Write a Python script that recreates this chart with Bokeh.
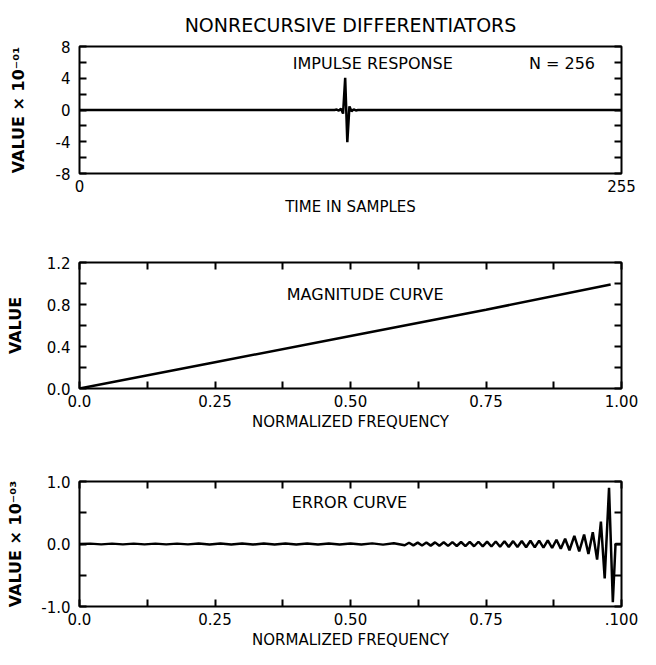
from bokeh.plotting import figure
from bokeh.layouts import column
from bokeh.models import FixedTicker, LinearAxis, Label, Range1d, CustomJSTickFormatter
from bokeh.embed import file_html
from bokeh.resources import INLINE

FONT = "DejaVu Sans"

# ---------------- data ----------------
# impulse response, value x 10^-1, N = 256 (zero away from the centre)
impulse_n = [0, 120, 121, 122, 123, 124, 125, 126, 127, 128, 129, 130, 131, 255]
impulse_v = [0.0, 0.0, 0.05, -0.08, 0.15, -0.45, 4.05, -4.05, 0.45, -0.15, 0.08, -0.05, 0.0, 0.0]

# magnitude curve
mag_f = [0.0, 0.25, 0.50, 0.75, 0.98]
mag_v = [0.0, 0.25, 0.50, 0.75, 0.99]

# error curve, value x 10^-3
err_f = [0.00, 0.02, 0.04, 0.06, 0.08, 0.10, 0.12, 0.14, 0.16, 0.18,
         0.20, 0.22, 0.24, 0.26, 0.28, 0.30, 0.32, 0.34, 0.36, 0.38,
         0.40, 0.42, 0.44, 0.46, 0.48, 0.50, 0.52, 0.54, 0.56, 0.58,
         0.600, 0.608, 0.616, 0.624, 0.632, 0.640, 0.648, 0.656, 0.664, 0.672,
         0.680, 0.688, 0.696, 0.704, 0.712, 0.720, 0.728, 0.736, 0.744, 0.752,
         0.760, 0.768, 0.776, 0.784, 0.792, 0.800, 0.808, 0.816, 0.824, 0.832,
         0.840, 0.848, 0.856, 0.864, 0.872, 0.880, 0.888, 0.896, 0.904, 0.913,
         0.922, 0.931, 0.939, 0.947, 0.955, 0.962, 0.969, 0.977, 0.984, 0.989,
         1.000]
err_v = [0.0, 0.006, -0.006, 0.006, -0.006, 0.006, -0.006, 0.006, -0.006, 0.006,
         -0.006, 0.008, -0.008, 0.008, -0.008, 0.008, -0.008, 0.008, -0.008, 0.008,
         -0.008, 0.008, -0.008, 0.008, -0.008, 0.008, -0.008, 0.010, -0.010, 0.012,
         -0.020, 0.020, -0.022, 0.022, -0.024, 0.024, -0.026, 0.026, -0.028, 0.028,
         -0.030, 0.030, -0.032, 0.032, -0.034, 0.034, -0.036, 0.036, -0.038, 0.038,
         -0.040, 0.040, -0.043, 0.043, -0.046, 0.046, -0.049, 0.049, -0.052, 0.052,
         -0.055, 0.055, -0.058, 0.058, -0.064, 0.068, -0.075, 0.085, -0.10, 0.13,
         -0.12, 0.15, -0.16, 0.19, -0.25, 0.36, -0.55, 0.90, -0.93, 0.0,
         0.0]

# axis ticks / labels
imp_xticks = [0, 255]
imp_yticks = [-8, -4, 0, 4, 8]
imp_yminor = [-6, -2, 2, 6]
imp_ylabels = {-8: "-8", -4: "-4", 0: "0", 4: "4", 8: "8"}
mag_yticks = [0.0, 0.4, 0.8, 1.2]
mag_yminor = [0.2, 0.6, 1.0]
mag_ylabels = {0.0: "0.0", 0.4: "0.4", 0.8: "0.8", 1.2: "1.2"}
freq_ticks = [0.0, 0.25, 0.50, 0.75, 1.0]
freq_minor = [0.125, 0.375, 0.625, 0.875]
mag_xlabels = {0.0: "0.0", 0.25: "0.25", 0.5: "0.50", 0.75: "0.75", 1.0: "1.00"}
err_xlabels = {0.0: "0.0", 0.25: "0.25", 0.5: "0.50", 0.75: "0.75", 1.0: ".100"}
err_yticks = [-1.0, 0.0, 1.0]
err_yminor = [-0.5, 0.5]
err_ylabels = {-1.0: "-1.0", 0.0: "0.0", 1.0: "1.0"}

FW = 542
LB = 79
RB = 19
TICK_FS = "15px"
LABEL_FS = "15px"
TEXT_FS = "16px"


def make_fig(xr, yr, fh, tb, bb):
    p = figure(frame_width=FW, frame_height=fh, x_range=Range1d(*xr), y_range=Range1d(*yr),
               output_backend="svg", toolbar_location=None,
               x_axis_type=None, y_axis_type=None,
               min_border_left=LB, min_border_right=RB,
               min_border_top=tb, min_border_bottom=bb)
    p.outline_line_color = "black"
    p.outline_line_width = 2
    p.background_fill_color = "white"
    p.border_fill_color = "white"
    return p


def style_axis(ax, ticks, minor, tick_len=7):
    ax.ticker = FixedTicker(ticks=ticks, minor_ticks=minor)
    ax.axis_line_color = None
    ax.major_tick_in = tick_len
    ax.major_tick_out = 0
    ax.minor_tick_in = tick_len
    ax.minor_tick_out = 0
    ax.major_tick_line_width = 2
    ax.minor_tick_line_width = 2
    ax.major_tick_line_color = "black"
    ax.minor_tick_line_color = "black"
    ax.major_label_text_font = FONT
    ax.major_label_text_font_size = TICK_FS
    ax.major_label_text_color = "black"
    ax.axis_label_text_font = FONT
    ax.axis_label_text_font_size = LABEL_FS
    ax.axis_label_text_font_style = "normal"
    ax.axis_label_text_color = "black"


def x_label_style(ax):
    ax.major_label_standoff = 6
    ax.axis_label_standoff = 3


def blank_axis(ax):
    ax.formatter = CustomJSTickFormatter(code="return ''")
    ax.major_label_standoff = 0


def add_text(p, x, y, t):
    p.add_layout(Label(x=x, y=y, text=t, text_align="center", text_baseline="middle",
                       text_font=FONT, text_font_size=TEXT_FS, text_color="black"))


def y_label_style(ay, standoff):
    ay.major_label_standoff = 9
    ay.axis_label_standoff = standoff
    ay.axis_label_text_font_size = "16px"
    ay.axis_label_text_font_style = "bold"


# ---------------- impulse response ----------------
p1 = make_fig((0, 255), (-8, 8), 127, 46, 44)
p1.title.text = "NONRECURSIVE DIFFERENTIATORS"
p1.title.align = "center"
p1.title.text_font = FONT
p1.title.text_font_size = "19px"
p1.title.text_font_style = "normal"
p1.title.text_color = "black"
p1.title.standoff = 22
p1.title.offset = 6

ax = LinearAxis(axis_label="TIME IN SAMPLES")
style_axis(ax, imp_xticks, [], tick_len=0)
x_label_style(ax)
p1.add_layout(ax, "below")
ay = LinearAxis(axis_label="VALUE × 10⁻⁰¹")
style_axis(ay, imp_yticks, imp_yminor)
ay.major_label_overrides = imp_ylabels
y_label_style(ay, 25)
p1.add_layout(ay, "left")
ayr = LinearAxis()
style_axis(ayr, imp_yticks, imp_yminor)
blank_axis(ayr)
p1.add_layout(ayr, "right")

p1.line(impulse_n, impulse_v, line_color="black", line_width=2.5)
add_text(p1, 138, 5.9, "IMPULSE RESPONSE")
add_text(p1, 227, 5.9, "N = 256")

# ---------------- magnitude curve ----------------
p2 = make_fig((0, 1), (0, 1.2), 126, 44, 44)
ax = LinearAxis(axis_label="NORMALIZED FREQUENCY")
style_axis(ax, freq_ticks, freq_minor)
ax.major_label_overrides = mag_xlabels
x_label_style(ax)
p2.add_layout(ax, "below")
axt = LinearAxis()
style_axis(axt, freq_ticks, freq_minor)
blank_axis(axt)
p2.add_layout(axt, "above")
ay = LinearAxis(axis_label="VALUE")
style_axis(ay, mag_yticks, mag_yminor)
ay.major_label_overrides = mag_ylabels
y_label_style(ay, 19)
p2.add_layout(ay, "left")
ayr = LinearAxis()
style_axis(ayr, mag_yticks, mag_yminor)
blank_axis(ayr)
p2.add_layout(ayr, "right")

p2.line(mag_f, mag_v, line_color="black", line_width=2.5)
add_text(p2, 0.527, 0.9, "MAGNITUDE CURVE")

# ---------------- error curve ----------------
p3 = make_fig((0, 1), (-1, 1), 125, 48, 44)
ax = LinearAxis(axis_label="NORMALIZED FREQUENCY")
style_axis(ax, freq_ticks, freq_minor)
ax.major_label_overrides = err_xlabels
x_label_style(ax)
p3.add_layout(ax, "below")
axt = LinearAxis()
style_axis(axt, freq_ticks, freq_minor)
blank_axis(axt)
p3.add_layout(axt, "above")
ay = LinearAxis(axis_label="VALUE × 10⁻⁰³")
style_axis(ay, err_yticks, err_yminor)
ay.major_label_overrides = err_ylabels
y_label_style(ay, 13)
p3.add_layout(ay, "left")
ayr = LinearAxis()
style_axis(ayr, err_yticks, err_yminor)
blank_axis(ayr)
p3.add_layout(ayr, "right")

p3.line(err_f, err_v, line_color="black", line_width=2.5)
add_text(p3, 0.498, 0.67, "ERROR CURVE")

layout = column(p1, p2, p3, spacing=0)
open("out.html", "w").write(file_html(layout, INLINE))
